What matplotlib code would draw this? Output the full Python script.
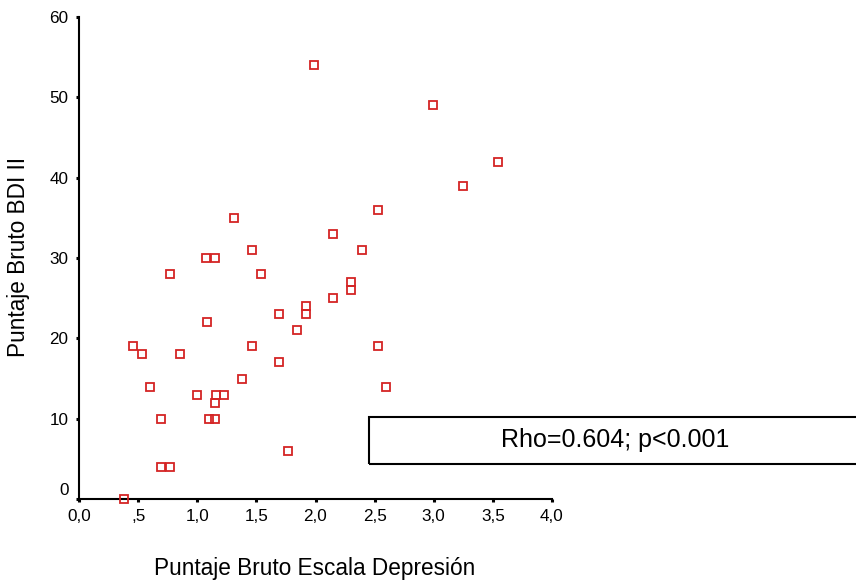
import matplotlib
matplotlib.use("Agg")
import matplotlib.pyplot as plt
from matplotlib.patches import Rectangle
from matplotlib.transforms import ScaledTranslation

plt.rcParams['font.family'] = ['Liberation Sans', 'DejaVu Sans']

# Data
escala_depresion = [1.99, 2.99, 3.54, 3.25, 2.53, 1.31, 2.15, 1.46, 2.39, 1.07,
                    1.15, 0.77, 1.54, 2.30, 2.30, 2.15, 1.92, 1.92, 1.69, 1.84,
                    1.08, 0.46, 1.46, 2.53, 0.53, 0.85, 1.69, 1.38, 0.60, 2.60,
                    1.00, 1.16, 1.23, 1.15, 0.69, 1.10, 1.15, 1.77, 0.69, 0.77,
                    0.38]
bdi_ii = [54, 49, 42, 39, 36, 35, 33, 31, 31, 30,
          30, 28, 28, 27, 26, 25, 24, 23, 23, 21,
          22, 19, 19, 19, 18, 18, 17, 15, 14, 14,
          13, 13, 13, 12, 10, 10, 10, 6, 4, 4,
          0]

x_ticks = [0.0, 0.5, 1.0, 1.5, 2.0, 2.5, 3.0, 3.5, 4.0]
x_ticklabels = ['0,0', ',5', '1,0', '1,5', '2,0', '2,5', '3,0', '3,5', '4,0']
y_ticks = [0, 10, 20, 30, 40, 50, 60]
y_ticklabels = ['0', '10', '20', '30', '40', '50', '60']

annotation = 'Rho=0.604; p<0.001'
x_label = 'Puntaje Bruto Escala Depresión'
y_label = 'Puntaje Bruto BDI II'

W, H = 856, 583
fig = plt.figure(figsize=(W / 100, H / 100), dpi=100)
ax_left, ax_right, ax_top, ax_bottom = 79, 552, 17, 499
ax = fig.add_axes([ax_left / W, 1 - ax_bottom / H,
                   (ax_right - ax_left) / W, (ax_bottom - ax_top) / H])

ax.plot(escala_depresion, bdi_ii, linestyle='none', marker='s',
        markersize=6.2, markerfacecolor='none', markeredgecolor='#d42424',
        markeredgewidth=1.3, clip_on=False, zorder=3)

ax.set_xlim(0, 4.0)
ax.set_ylim(0, 60)
ax.set_xticks(x_ticks)
ax.set_xticklabels(x_ticklabels)
ax.set_yticks(y_ticks)
ax.set_yticklabels(y_ticklabels)

for side in ['top', 'right']:
    ax.spines[side].set_visible(False)
for side in ['left', 'bottom']:
    ax.spines[side].set_linewidth(1.5)
    ax.spines[side].set_color('black')

ax.tick_params(axis='both', direction='out', length=2.5, width=2.2,
               labelsize=12.3, colors='black')
ax.tick_params(axis='x', pad=4.5)
ax.tick_params(axis='y', pad=5)

# Shift the "0" y label up, as in the reference
lbl0 = ax.get_yticklabels()[0]
lbl0.set_transform(lbl0.get_transform() + ScaledTranslation(0, 0.10, fig.dpi_scale_trans))

ax.set_xlabel(x_label, fontsize=16.3, va='center')
ax.xaxis.set_label_coords((315 - ax_left) / (ax_right - ax_left),
                          (ax_bottom - 568) / (ax_bottom - ax_top))
ax.set_ylabel(y_label, fontsize=16.3, va='center')
ax.yaxis.set_label_coords((19 - ax_left) / (ax_right - ax_left),
                          (ax_bottom - 257) / (ax_bottom - ax_top))

# Annotation box (extends past the right edge)
bx0, by0, by1 = 369, 417, 464
rect = Rectangle((bx0 / W, 1 - by1 / H), (W + 20 - bx0) / W, (by1 - by0) / H,
                 transform=fig.transFigure, fill=False, edgecolor='black',
                 linewidth=1.5, clip_on=False)
fig.patches.append(rect)
fig.text(615 / W, 1 - 440 / H, annotation, fontsize=18, ha='center', va='center')

fig.savefig('out.png', dpi=100, facecolor='white')
